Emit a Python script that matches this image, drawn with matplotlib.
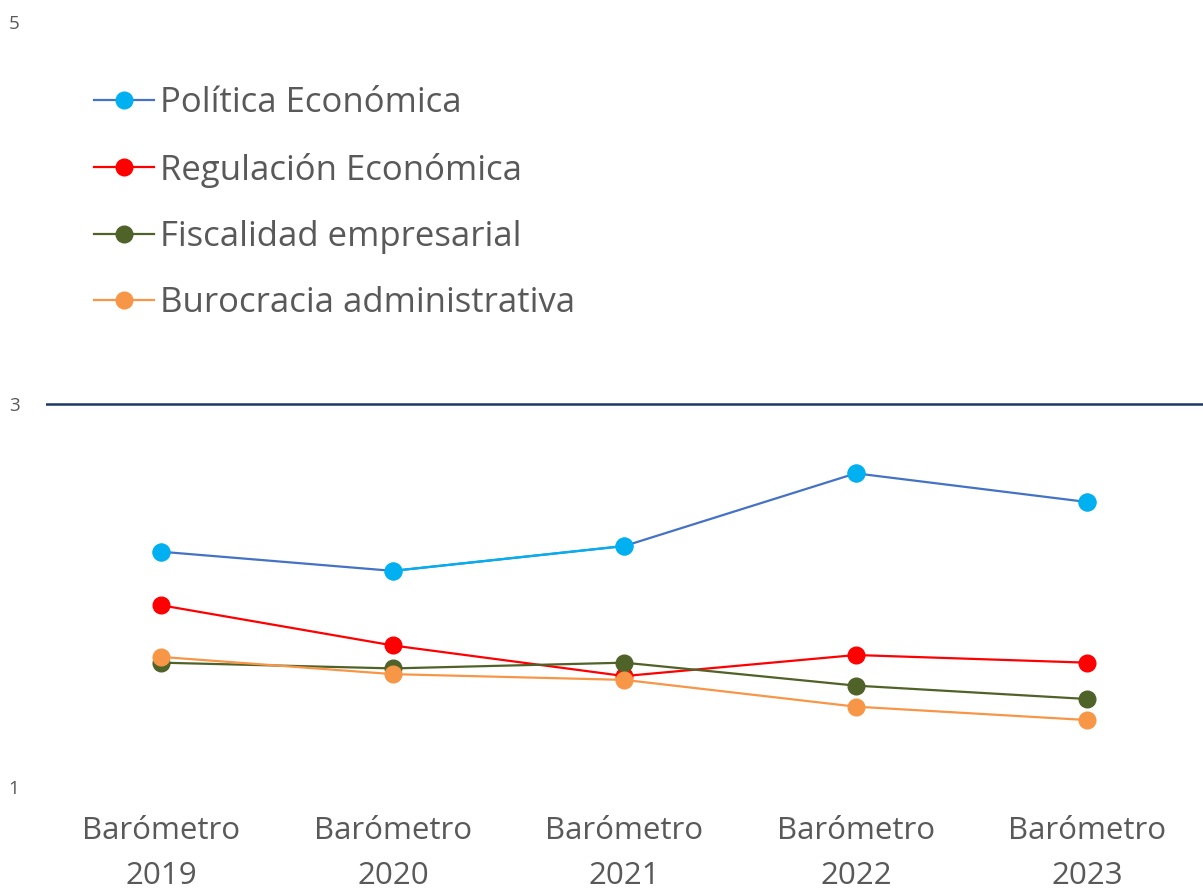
import matplotlib
matplotlib.use("Agg")
from matplotlib import pyplot as plt

# datos
anios = ["2019", "2020", "2021", "2022", "2023"]
etiquetas = ["Barómetro\n" + a for a in anios]
politica = [2.23, 2.13, 2.26, 2.64, 2.49]
regulacion = [1.95, 1.74, 1.58, 1.69, 1.65]
fiscalidad = [1.65, 1.62, 1.65, 1.53, 1.46]
burocracia = [1.68, 1.59, 1.56, 1.42, 1.35]
referencia = 3
y_ticks = [1, 3, 5]

plt.rcParams['font.family'] = ['Open Sans', 'DejaVu Sans']

fig = plt.figure(figsize=(12.03, 8.94), dpi=100)
ax = fig.add_axes([0.038, 0.1197, 0.962, 0.8557])

x = list(range(len(anios)))
gris = "#595959"

ax.axhline(referencia, color="#1F3864", lw=1.8, zorder=1)

# Politica economica: linea azul acero con un tramo celeste
ax.plot(x, politica, "-o", color="#4472C4", mfc="#00B0F0", mec="#00B0F0",
        ms=12, lw=1.6, label="Política Económica", zorder=3)
ax.plot(x[1:3], politica[1:3], "-", color="#00B0F0", lw=1.6, zorder=3.5)
ax.plot(x, politica, "o", color="#00B0F0", ms=12, zorder=4)

ax.plot(x, regulacion, "-o", color="#FF0000", ms=12, lw=1.6,
        label="Regulación Económica", zorder=3)
ax.plot(x, fiscalidad, "-o", color="#4F6228", ms=12, lw=1.6,
        label="Fiscalidad empresarial", zorder=3)
ax.plot(x, burocracia, "-o", color="#F79646", ms=12, lw=1.6,
        label="Burocracia administrativa", zorder=3)

ax.set_xlim(-0.5, 4.5)
ax.set_ylim(1, 5)
ax.set_yticks(y_ticks)
ax.set_yticklabels([str(v) for v in y_ticks], color=gris, fontsize=13.5)
ax.set_xticks(x)
ax.set_xticklabels(etiquetas, color=gris, fontsize=22.5, linespacing=1.66)
ax.tick_params(length=0)
ax.tick_params(axis="x", pad=21)
ax.tick_params(axis="y", pad=19)
for s in ax.spines.values():
    s.set_visible(False)

leg = ax.legend(loc="upper left", bbox_to_anchor=(0.042, 0.916, 0, 0),
                frameon=False, fontsize=25, handlelength=1.73,
                handletextpad=0.15, labelspacing=0.93, borderaxespad=0,
                borderpad=0)
for t in leg.get_texts():
    t.set_color(gris)

plt.savefig("out.png", dpi=100)
